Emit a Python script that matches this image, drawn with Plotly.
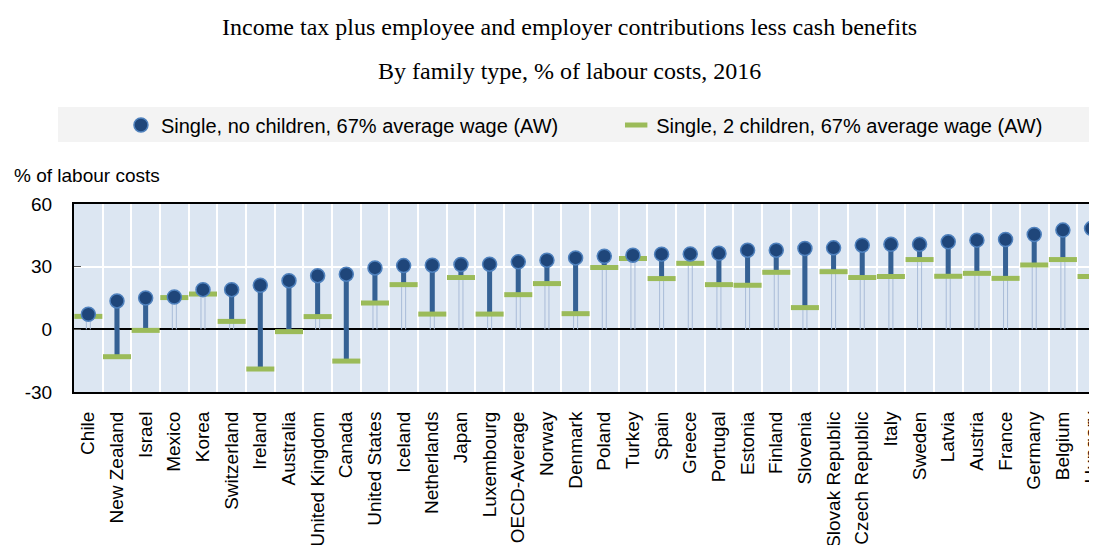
"""Lollipop chart: tax wedge by family type."""
import plotly.graph_objects as go

countries = [
    "Chile", "New Zealand", "Israel", "Mexico", "Korea", "Switzerland", "Ireland",
    "Australia", "United Kingdom", "Canada", "United States", "Iceland", "Netherlands",
    "Japan", "Luxembourg", "OECD-Average", "Norway", "Denmark", "Poland", "Turkey",
    "Spain", "Greece", "Portugal", "Estonia", "Finland", "Slovenia", "Slovak Republic",
    "Czech Republic", "Italy", "Sweden", "Latvia", "Austria", "France", "Germany",
    "Belgium", "Hungary",
]
single_no_children = [
    7.2, 13.6, 15.0, 15.5, 19.0, 19.0, 21.1, 23.3, 25.7, 26.4, 29.4, 30.5, 30.7,
    31.0, 31.2, 32.3, 33.1, 34.2, 35.0, 35.5, 36.0, 36.1, 36.4, 37.9, 37.9, 38.7,
    39.0, 40.3, 40.7, 40.7, 41.9, 42.7, 43.0, 45.4, 47.5, 48.3,
]
single_two_children = [
    6.2, -13.1, -0.5, 15.2, 16.9, 3.8, -19.0, -1.1, 6.1, -15.2, 12.6, 21.4, 7.3,
    24.8, 7.3, 16.6, 21.9, 7.5, 29.6, 33.9, 24.3, 31.6, 21.4, 21.1, 27.3, 10.4,
    27.6, 24.8, 25.3, 33.4, 25.4, 26.8, 24.4, 30.8, 33.4, 25.3,
]
y_ticks = [-30, 0, 30, 60]
y_ticktext = ["-30", "0", "30", "60"]

NAVY = "#1f467a"
RIM = "#4f81bd"
STEM = "#356194"
GREEN = "#9bbb59"
DROP = "#a9bcd8"
FONT = "Liberation Sans, Arial, sans-serif"
SERIF = "Liberation Serif, Times New Roman, serif"

idx = list(range(len(countries)))

fig = go.Figure()

# thin drop lines from zero, slightly offset for each series
for off, vals in ((-0.07, single_no_children), (0.07, single_two_children)):
    xs, ys = [], []
    for i, v in zip(idx, vals):
        xs += [i + off, i + off, None]
        ys += [0, v, None]
    fig.add_trace(go.Scatter(x=xs, y=ys, mode="lines", line=dict(color=DROP, width=1),
                             hoverinfo="skip", showlegend=False))

# thick stems between the two series
sx, sy = [], []
for i, a, b in zip(idx, single_no_children, single_two_children):
    sx += [i, i, None]
    sy += [a, b, None]
fig.add_trace(go.Scatter(x=sx, y=sy, mode="lines", line=dict(color=STEM, width=5),
                         hoverinfo="skip", showlegend=False))

fig.add_trace(go.Scatter(
    x=idx, y=single_two_children, mode="markers", legend="legend2",
    name="Single, 2 children, 67% average wage (AW)",
    marker=dict(symbol="line-ew", size=20, line=dict(color=GREEN, width=5)),
))
fig.add_trace(go.Scatter(
    x=idx, y=single_no_children, mode="markers", legend="legend",
    name="Single, no children, 67% average wage (AW)",
    marker=dict(symbol="circle", size=14, color=NAVY, line=dict(color=RIM, width=1.5)),
))

# grey legend band
fig.add_shape(type="rect", xref="paper", yref="paper", x0=-0.0156, x1=1.0,
              y0=1.330, y1=1.516, fillcolor="#f3f3f3", line_width=0, layer="below")

fig.add_annotation(text="Income tax plus employee and employer contributions less cash benefits",
                   xref="paper", yref="paper", x=0.4839, y=1.941, showarrow=False,
                   yanchor="middle", font=dict(family=SERIF, size=24, color="black"))
fig.add_annotation(text="By family type, % of labour costs, 2016",
                   xref="paper", yref="paper", x=0.4839, y=1.707, showarrow=False,
                   yanchor="middle", font=dict(family=SERIF, size=24, color="black"))
fig.add_annotation(text="% of labour costs", xref="paper", yref="paper",
                   x=-0.0606, y=1.154, xanchor="left", yanchor="middle", showarrow=False,
                   font=dict(family=FONT, size=19, color="black"))

legend_style = dict(orientation="h", y=1.420, xanchor="left", yanchor="middle",
                    bgcolor="rgba(0,0,0,0)", font=dict(size=20))

# page body adds an 8px offset, so the figure is 8px smaller than the window
fig.update_layout(
    width=1089, height=537,
    margin=dict(l=66, r=0, t=196, b=153),
    plot_bgcolor="#dce6f2", paper_bgcolor="white",
    font=dict(family=FONT, size=19, color="black"),
    legend=dict(x=0.0459, **legend_style),
    legend2=dict(x=0.530, **legend_style),
    hovermode=False,
)
fig.update_xaxes(
    range=[-0.5, 35.19], tickvals=idx, ticktext=countries, tickangle=-90,
    showgrid=False, showline=True, mirror=True, linecolor="black", linewidth=2,
    ticks="", zeroline=False, automargin=False, ticklabeloverflow="allow",
    ticklabelstandoff=10,
    minor=dict(tickvals=[i + 0.5 for i in idx], showgrid=True, gridcolor="white", gridwidth=1.5),
)
fig.update_yaxes(
    range=[-30, 60], tickvals=y_ticks, ticktext=y_ticktext,
    showgrid=True, gridcolor="white", gridwidth=1.5,
    zeroline=True, zerolinecolor="black", zerolinewidth=1.5,
    showline=True, linecolor="black", linewidth=2, mirror=False, automargin=False,
    ticks="inside", ticklen=7, tickcolor="#555", ticklabelstandoff=16,
)

fig.write_html("out.html")
